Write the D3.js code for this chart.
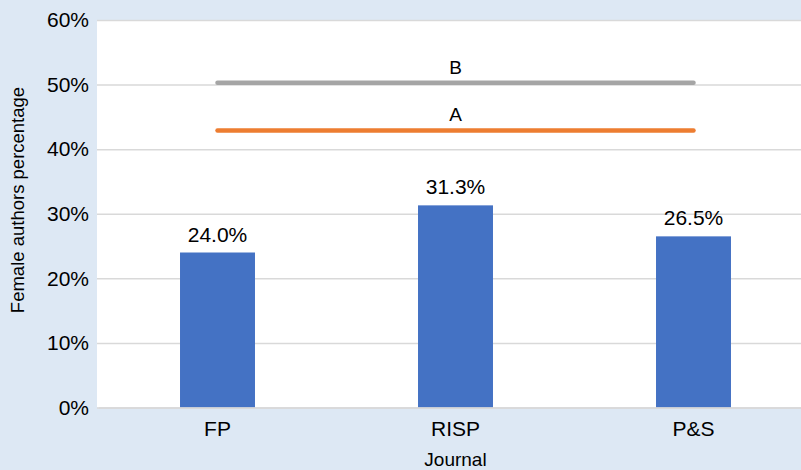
<!DOCTYPE html>
<html>
<head>
<meta charset="utf-8">
<script src="https://cdn.jsdelivr.net/npm/d3@7"></script>
<style>
  html, body { margin: 0; padding: 0; background: #dde8f4; }
  svg { display: block; font-family: "Liberation Sans", Arial, sans-serif; }
</style>
</head>
<body>
<script>
// Share of female authors per journal
const journals = ["FP", "RISP", "P&S"];
const femaleShare = [24.0, 31.3, 26.5];
// Reference levels drawn as horizontal lines across the journals
const refNames = ["B", "A"];
const refValues = [50.3, 42.9];
const refColors = ["#a5a5a5", "#ed7d31"];
const yTicks = [0, 10, 20, 30, 40, 50, 60];

const W = 801, H = 470;
const plot = { left: 97, top: 20, right: 811, bottom: 407.5 };

const svg = d3.select("body").append("svg")
  .attr("width", W).attr("height", H);

svg.append("rect").attr("width", W).attr("height", H).attr("fill", "#dde8f4");

const x = d3.scaleBand().domain(journals).range([plot.left + 1.5, plot.right + 1.5]).paddingInner(0.685).paddingOuter(0.3425);
const y = d3.scaleLinear().domain([0, 60]).range([plot.bottom, plot.top]);

svg.append("rect")
  .attr("x", plot.left).attr("y", plot.top)
  .attr("width", plot.right - plot.left).attr("height", plot.bottom - plot.top)
  .attr("fill", "#ffffff");

// Gridlines and y labels
const yAxis = d3.axisLeft(y).tickValues(yTicks).tickFormat(d => d + "%")
  .tickSize(-(plot.right - plot.left)).tickPadding(8);
const gy = svg.append("g").attr("transform", `translate(${plot.left},0)`).call(yAxis);
gy.select(".domain").remove();
gy.selectAll(".tick line").attr("stroke", "#d9d9d9").attr("stroke-width", 1.5);
gy.selectAll(".tick text").attr("font-size", 21).attr("fill", "#000");

// Bars
svg.append("g").selectAll("rect").data(journals).join("rect")
  .attr("x", d => x(d))
  .attr("width", x.bandwidth())
  .attr("y", (d, i) => y(femaleShare[i]))
  .attr("height", (d, i) => y(0) - y(femaleShare[i]))
  .attr("fill", "#4472c4");

// Value labels
svg.append("g").selectAll("text").data(journals).join("text")
  .attr("x", d => x(d) + x.bandwidth() / 2)
  .attr("y", (d, i) => y(femaleShare[i]) - 11)
  .attr("text-anchor", "middle").attr("font-size", 21).attr("fill", "#000")
  .text((d, i) => femaleShare[i].toFixed(1) + "%");

// Bottom axis
const xAxis = d3.axisBottom(x).tickSize(0).tickPadding(14);
const gx = svg.append("g").attr("transform", `translate(0,${plot.bottom})`).call(xAxis);
gx.select(".domain").attr("stroke", "#d9d9d9").attr("stroke-width", 1.5);
gx.selectAll(".tick text").attr("font-size", 21).attr("fill", "#000");

// Reference lines
const x0 = x(journals[0]) + x.bandwidth() / 2;
const x1 = x(journals[journals.length - 1]) + x.bandwidth() / 2;
const xMid = x(journals[1]) + x.bandwidth() / 2;
refNames.forEach((name, i) => {
  svg.append("line")
    .attr("x1", x0).attr("x2", x1)
    .attr("y1", y(refValues[i])).attr("y2", y(refValues[i]))
    .attr("stroke", refColors[i]).attr("stroke-width", 4.5)
    .attr("stroke-linecap", "round");
  svg.append("text")
    .attr("x", xMid).attr("y", y(refValues[i]) - 9)
    .attr("text-anchor", "middle").attr("font-size", 19).attr("fill", "#000")
    .text(name);
});

// Axis titles
svg.append("text")
  .attr("x", xMid).attr("y", 466)
  .attr("text-anchor", "middle").attr("font-size", 19).attr("fill", "#000")
  .text("Journal");
svg.append("text")
  .attr("transform", `translate(24,200) rotate(-90)`)
  .attr("text-anchor", "middle").attr("font-size", 18.5).attr("fill", "#000")
  .text("Female authors percentage");
</script>
</body>
</html>
